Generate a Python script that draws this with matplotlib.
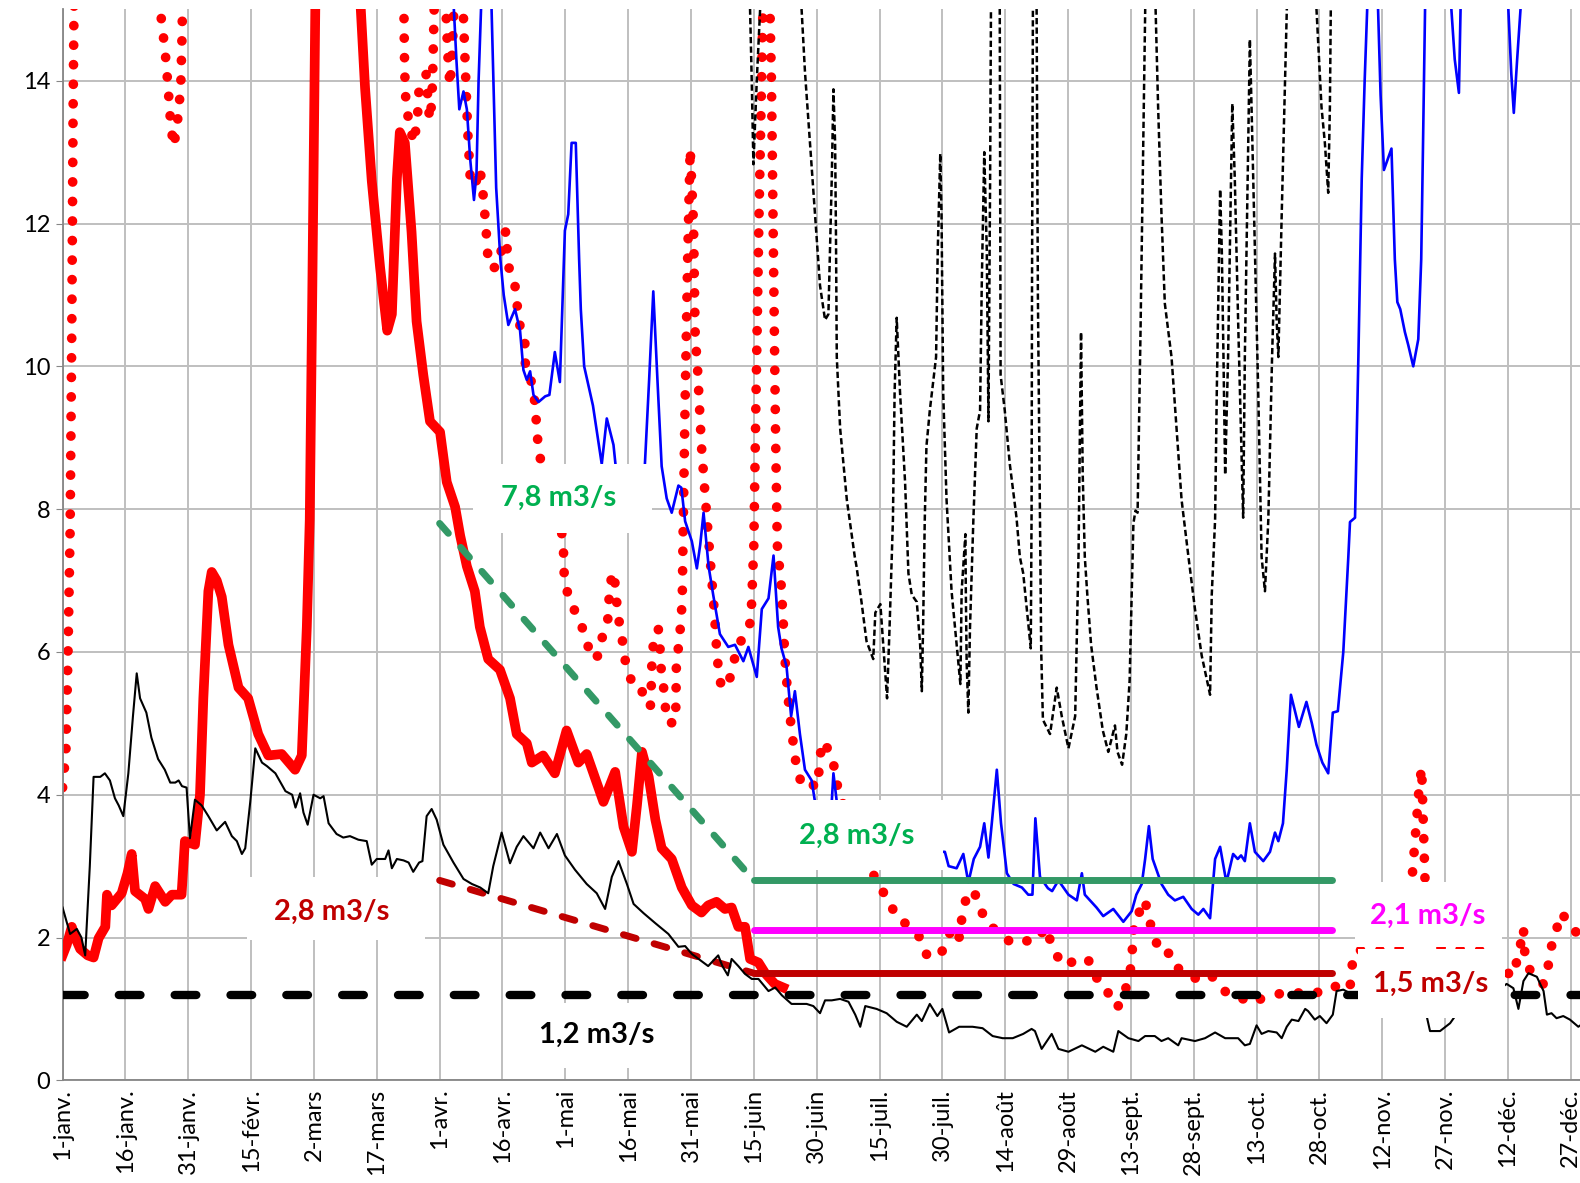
import matplotlib
matplotlib.use('Agg')
import matplotlib.pyplot as plt
from matplotlib.patches import Rectangle

plt.rcParams['font.family'] = ['Lato', 'DejaVu Sans']

# axis ticks (day of year)
tick_days = [1, 16, 31, 46, 61, 76, 91, 106, 121, 136, 151, 166, 181, 196, 211,
             226, 241, 256, 271, 286, 301, 316, 331, 346, 361]
tick_labels = ['1-janv.', '16-janv.', '31-janv.', '15-févr.', '2-mars', '17-mars',
               '1-avr.', '16-avr.', '1-mai', '16-mai', '31-mai', '15-juin', '30-juin',
               '15-juil.', '30-juil.', '14-août', '29-août', '13-sept.', '28-sept.',
               '13-oct.', '28-oct.', '12-nov.', '27-nov.', '12-déc.', '27-déc.']

# thick red series
red_days = [1, 2, 3.2, 4, 5.2, 7, 8.4, 9.6, 11.2, 11.6, 12.7, 15.1, 16.5, 17.5, 18.3,
            20.7, 21.5, 23.1, 25.5, 27.1, 29.4, 30.2, 32.6, 33.8, 34.6, 35.8, 36.6,
            37.8, 39, 40.6, 43, 45.3, 47.7, 50.1, 53.3, 56.5, 58.1, 59.3, 60, 60.6,
            61.5, 66, 71, 72, 73.2, 74.8, 76.8, 78.5, 79.6, 80.8, 81.5, 82.7, 84.3,
            85.5, 87.1, 88.7, 91.1, 92.7, 94.7, 95.9, 97.5, 99.4, 100.6, 102.6, 105.4,
            107.8, 109.4, 111.8, 113, 115.7, 118.5, 121.3, 124.1, 126.1, 130.1, 132.9,
            134.9, 136.9, 138.1, 139.3, 140.9, 142.5, 144, 146.4, 148.8, 151.2, 153.5,
            155.1, 157.1, 159.1, 160.7, 162.3, 163.9, 165.1, 167.1, 168.7, 171, 173]
red_vals = [1.75, 1.9, 2.15, 2.0, 1.84, 1.75, 1.72, 1.99, 2.15, 2.6, 2.45, 2.62, 2.9,
            3.17, 2.65, 2.54, 2.4, 2.72, 2.5, 2.6, 2.6, 3.35, 3.3, 4.0, 5.35, 6.85, 7.12,
            7.0, 6.77, 6.1, 5.5, 5.35, 4.85, 4.55, 4.57, 4.35, 4.55, 6.35, 7.85, 11.0,
            16.0, 25.0, 22.0, 15.2, 13.9, 12.6, 11.38, 10.5, 10.73, 12.63, 13.28, 13.13,
            11.88, 10.63, 9.88, 9.23, 9.08, 8.38, 8.03, 7.63, 7.2, 6.85, 6.35, 5.9, 5.75,
            5.35, 4.85, 4.72, 4.45, 4.55, 4.3, 4.9, 4.45, 4.57, 3.9, 4.32, 3.55, 3.2, 3.85,
            4.6, 4.25, 3.65, 3.25, 3.1, 2.7, 2.45, 2.35, 2.45, 2.5, 2.4, 2.42, 2.15, 2.15,
            1.7, 1.65, 1.5, 1.35, 1.3]

# red dotted series
dot_days = [1, 1.8, 2.3, 2.8, 3.2, 3.5, 3.8, 6, 12, 18, 23, 24.5, 25.5, 26.2, 26.8,
            27.5, 28.3, 29.2, 29.5, 29.7, 35, 50, 65, 78, 81.8, 82.5, 82.6, 82.8, 83.2,
            84, 84.8, 85.5, 85.9, 86.1, 87.8, 88.1, 88.4, 88.7, 89.1, 89.3, 89.5, 89.7,
            90.2, 91.5, 92.4, 92.7, 93.1, 93.5, 94.0, 94.4, 95, 96.2, 96.7, 97.2, 97.7,
            98.4, 99.5, 100.6, 101.2, 102, 102.6, 103.2, 105, 105.8, 106.8, 107.4, 108.4,
            109.2, 109.6, 110.2, 111.3, 111.4, 111.5, 112.6, 113.4, 114, 114.3, 114.8,
            117, 120.2, 120.6, 120.7, 121.3, 122.9, 124.7, 126.1, 127.3, 128.9, 129.8,
            131.1, 131.4, 131.6, 132.6, 133, 133.4, 134, 134.8, 135.4, 136.8, 138.9,
            139.9, 141.3, 141.5, 141.6, 141.8, 142.4, 143.2, 143.6, 143.8, 144.4, 144.8,
            145.2, 147.2, 147.4, 147.5, 148.4, 148.9, 149.1, 149.6, 150.2, 150.8, 151.6,
            152, 152.6, 153.5, 154.5, 155.5, 156.2, 156.6, 157.1, 157.5, 158.2, 159.5,
            160.9, 161.9, 163.5, 165.3, 166, 166.5, 167.2, 168, 168.5, 169.5, 170.2,
            170.8, 171.2, 171.6, 172.5, 173, 173.4, 174.1, 175, 176.2, 177.4, 178.6,
            179.8, 181, 181.6, 182.0, 182.6, 184.6, 185.6, 186.2, 190, 194.1, 195.7,
            198.5, 199.7, 203.3, 206.1, 207.3, 210, 212, 213.2, 215.2, 215.6, 216.4,
            218.4, 220, 221.6, 224.7, 227.5, 230.7, 233.9, 235.5, 236.7, 238.3, 240.1,
            243.3, 245.8, 247, 249.8, 251.2, 252.8, 254.6, 255.8, 256.2, 256.6, 256.8,
            258.2, 259.4, 260.1, 261.6, 262.9, 265.6, 267.5, 270.5, 273.3, 275.3, 277.7,
            280, 282.8, 284.4, 287, 293.2, 296.7, 298.7, 301.9, 305, 308.3, 308.6, 309.4,
            312, 316, 320, 322.5, 323.3, 324, 324.8, 325.4, 325.8, 326.2, 327.5, 332,
            336, 340, 343, 345.7, 347, 348.5, 349.7, 349.9, 350.3, 352.4, 354.4, 355.6,
            356.2, 357.6, 358.4, 359.5, 361.9, 363.1, 364]
dot_vals = [4.1, 4.6, 6.0, 7.7, 10.5, 13.5, 15.5, 22, 24, 22, 18, 14.9, 14.4, 13.9, 13.4,
            13.08, 13.35, 13.9, 14.6, 15.3, 22, 25, 24, 20, 16, 14.89, 14.37, 13.84,
            13.58, 13.34, 13.13, 13.38, 13.64, 13.9, 14.09, 13.84, 13.58, 13.45, 13.7,
            13.97, 14.47, 15.0, 16.5, 16.5, 15.2, 14.7, 14.2, 13.93, 14.4, 15.0, 16.5, 16,
            14.87, 14.08, 13.3, 12.53, 12.55, 12.77, 12.52, 11.99, 11.46, 11.37, 11.4,
            11.65, 11.9, 11.4, 11.27, 11.07, 10.8, 10.56, 10.45, 10.19, 9.93, 9.83, 9.7,
            9.29, 9.03, 8.77, 8.2, 7.65, 7.37, 7.12, 6.87, 6.62, 6.4, 6.15, 5.9, 5.95,
            6.2, 6.42, 6.69, 6.95, 7.12, 6.87, 6.62, 6.36, 6.1, 5.84, 5.59, 5.55, 5.31,
            5.23, 5.49, 5.75, 6.0, 6.27, 6.32, 6.06, 5.8, 5.54, 5.29, 5.02, 5.0, 5.25,
            5.78, 6.3, 6.7, 7.59, 9.5, 11.5, 13.05, 12.0, 10.45, 9.93, 8.88, 8.1, 7.35,
            6.81, 6.54, 6.05, 5.78, 5.52, 5.5, 5.74, 6.07, 6.2, 6.43, 7.5, 9.5, 12, 14.5,
            16, 16, 14, 11, 9, 7.5, 6.95, 6.45, 5.92, 5.4, 4.9, 4.38, 4.15, 4.2, 4.15,
            4.1, 4.35, 4.62, 4.75, 4.54, 4.27, 4.02, 3.5, 2.95, 2.72, 2.52, 2.3, 2.15,
            1.97, 1.75, 1.73, 1.9, 2.15, 1.99, 2.25, 2.5, 2.67, 2.42, 2.19, 2.07, 1.92,
            1.95, 1.97, 2.15, 1.97, 1.75, 1.6, 1.7, 1.7, 1.47, 1.35, 1.12, 1.02, 1.25,
            1.5, 1.75, 1.99, 2.26, 2.37, 2.53, 2.29, 2.02, 1.78, 1.78, 1.55, 1.45, 1.39,
            1.46, 1.28, 1.18, 1.14, 1.08, 1.14, 1.24, 1.22, 1.25, 1.22, 1.32, 1.28, 1.54,
            1.8, 1.84, 1.82, 1.84, 2.4, 2.97, 3.5, 4.1, 4.38, 3.6, 2.82, 1.9, 1.82, 1.84,
            1.82, 1.75, 1.52, 1.45, 1.74, 2.13, 1.87, 1.62, 1.46, 1.35, 1.6, 1.84, 2.1,
            2.34, 2.29, 2.13, 1.92, 1.8]

# blue series
blue_days = [90, 94.4, 95.0, 95.7, 96.7, 97.5, 98.3, 99.2, 99.8, 100.3, 101, 102, 103,
             103.4, 104.5, 105.5, 106.3, 107.4, 109, 110.2, 111, 111.8, 112.6, 113.4,
             114.6, 116.2, 117.2, 118.5, 119.7, 120.5, 120.9, 121.7, 122.5, 123.5, 124.3,
             124.7, 125.5, 126.9, 127.6, 129.7, 130.9, 132.5, 133.2, 136, 139.5, 140, 141,
             142, 143, 144, 145.2, 146.4, 148, 148.7, 149.6, 151.2, 152.4, 153.2, 154,
             155.2, 156.3, 157.9, 159.9, 161.5, 163.5, 164.7, 166.7, 167.9, 169.5, 170.7,
             171.8, 172.6, 173.8, 174.9, 175.8, 177, 178.2, 179.8, 180.6, 183, 184.6, 185,
             185.8, 190, 200, 205, 211.6, 212.5, 214.4, 216, 217.2, 218.5, 220, 221, 222,
             222.8, 224, 225, 226.4, 228, 230, 231.5, 232.5, 233.2, 234.3, 236.2, 237.2,
             238.7, 241.1, 243.1, 244.3, 245, 247.8, 249.4, 251.8, 254.2, 256.2, 257.3,
             258.6, 259.4, 260.3, 261.2, 263.3, 264.9, 266.5, 268.5, 270.5, 272.1, 273.3,
             274.9, 276.1, 277.3, 278.8, 280.4, 281.5, 282.3, 283.2, 284.4, 285.6, 287.6,
             289.2, 290.4, 291.2, 292.3, 293.2, 294.2, 296.1, 297.9, 299.2, 300.3, 301.7,
             303.1, 304.2, 305.4, 306.7, 307.9, 308.3, 309.5, 310.3, 311.1, 311.8, 312.4,
             313.5, 315, 315.6, 316.4, 318.2, 319, 319.6, 320.3, 321.4, 322.2, 323.4,
             324.6, 325.3, 325.7, 326.2, 328, 331, 332.5, 333.3, 334.3, 334.7, 336, 344,
             346.1, 346.8, 347.4, 348.2, 349, 350, 364]
blue_vals = [18, 15.0, 14.3, 13.6, 13.85, 13.6, 12.9, 12.33, 12.7, 14.0, 15.2, 19, 16,
             15.0, 12.5, 11.5, 11.0, 10.58, 10.8, 10.5, 9.95, 9.81, 9.93, 9.6, 9.5, 9.58,
             9.6, 10.2, 9.78, 11.2, 11.9, 12.13, 13.13, 13.13, 11.5, 10.8, 10.0, 9.63,
             9.45, 8.63, 9.27, 8.9, 8.5, 7.85, 8.0, 8.63, 9.8, 11.05, 9.8, 8.6, 8.15, 7.95,
             8.33, 8.3, 7.83, 7.55, 7.17, 7.5, 7.95, 7.2, 6.8, 6.25, 6.07, 6.1, 5.87, 6.07,
             5.65, 6.6, 6.75, 7.35, 6.35, 6.05, 5.8, 5.1, 5.45, 4.85, 4.35, 4.2, 3.9, 3.8,
             3.9, 4.3, 3.9, 3.5, 3.3, 3.2, 3.2, 3.0, 2.97, 3.17, 2.77, 3.1, 3.27, 3.6, 3.12,
             3.6, 4.35, 3.6, 2.9, 2.75, 2.7, 2.6, 2.6, 3.67, 2.85, 2.69, 2.65, 2.8, 2.6,
             2.52, 2.9, 2.6, 2.42, 2.3, 2.4, 2.22, 2.37, 2.6, 2.75, 3.1, 3.56, 3.1, 2.75,
             2.6, 2.52, 2.57, 2.4, 2.32, 2.4, 2.27, 3.1, 3.27, 2.77, 3.17, 3.1, 3.15, 3.07,
             3.6, 3.2, 3.07, 3.2, 3.47, 3.35, 3.6, 4.35, 5.4, 4.95, 5.3, 5.0, 4.7, 4.45,
             4.3, 5.15, 5.17, 6.0, 7.33, 7.82, 7.88, 10.13, 12.63, 14.0, 15.0, 18, 15.0,
             13.8, 12.75, 13.05, 11.5, 10.9, 10.8, 10.48, 10.3, 10.0, 10.38, 11.5, 13.0,
             15.0, 20, 20, 15.0, 14.3, 13.83, 15.0, 20, 20, 15.0, 14.1, 13.55, 14.3, 15.0,
             18, 20]

# thin black dashed series
bdash_days = [164.5, 165.1, 165.5, 165.9, 166.7, 167.5, 170, 175, 177.4, 178.2, 179.4,
              180.6, 181.8, 183, 183.8, 184.6, 185, 185.4, 185.6, 185.8, 186.6, 188.2,
              190.1, 190.5, 191.7, 192.9, 194.5, 195, 196.2, 196.9, 197.8, 198.4, 199.2,
              199.6, 200.1, 200.9, 202.1, 202.9, 203.7, 204.9, 205.7, 206.1, 206.4, 206.8,
              207.2, 208, 209.5, 209.9, 210.5, 210.8, 211.2, 212, 212.6, 213.2, 214.4,
              215.3, 215.6, 216.5, 216.6, 216.8, 217.2, 217.6, 218.4, 219.2, 220, 220.4,
              221, 221.6, 222, 222.4, 222.6, 223.5, 224.7, 224.9, 225.9, 227.1, 228.7,
              229.5, 230.3, 231.5, 232.1, 232.3, 232.4, 232.6, 233, 233.5, 233.8, 234.3,
              234.6, 235, 236.7, 238.3, 239.5, 241.1, 242.7, 243.5, 244.1, 244.5, 245,
              245.6, 246.5, 247.8, 249.3, 250.6, 252.2, 252.8, 253.9, 254.9, 255.7, 256.6,
              257.1, 257.6, 258.3, 258.8, 259.4, 260.5, 261.9, 262.5, 263.3, 264.1, 265.7,
              268.1, 269.7, 271.3, 272.9, 274.9, 275.3, 276.1, 276.5, 277.3, 277.7, 278.1,
              278.5, 279.2, 280.2, 280.8, 281.6, 282.8, 283.2, 284.4, 284.8, 285.6, 286.4,
              287.2, 288, 288.8, 289.7, 290.4, 290.8, 291.2, 292, 293.2, 296, 300.3, 301.5,
              302.3, 303.1, 303.5, 303.7, 304.5]
bdash_vals = [17, 15.0, 14.0, 12.83, 14.0, 15.0, 22, 22, 15.0, 14.13, 13.13, 12.13,
              11.13, 10.65, 10.73, 12.63, 13.88, 13.13, 11.88, 10.13, 9.13, 8.13, 7.33,
              7.2, 6.7, 6.15, 5.9, 6.55, 6.67, 6.1, 5.35, 6.35, 7.85, 9.63, 10.68, 9.63,
              8.38, 7.1, 6.8, 6.7, 6.1, 5.45, 6.35, 7.85, 8.88, 9.38, 10.13, 11.63, 12.98,
              12.13, 9.63, 8.13, 7.5, 6.85, 6.1, 5.55, 6.85, 7.65, 6.85, 5.85, 5.15, 6.35,
              7.85, 9.13, 9.38, 11.13, 13.0, 11.63, 9.23, 12.63, 15.0, 17, 15.0, 9.88, 9.38,
              8.63, 7.88, 7.33, 7.1, 6.4, 6.05, 8.0, 11.1, 15.0, 18, 15.0, 11.0, 7.85, 6.0,
              5.05, 4.85, 5.5, 5.1, 4.65, 5.1, 7.35, 10.48, 8.5, 7.33, 6.8, 6.1, 5.5, 4.9,
              4.6, 4.97, 4.6, 4.42, 4.85, 5.6, 7.8, 7.98, 7.95, 10.5, 12.5, 15.0, 18, 15.0,
              13.63, 12.13, 10.88, 10.13, 8.13, 7.35, 6.6, 5.95, 5.4, 6.8, 7.85, 9.63,
              12.48, 11.63, 10.13, 8.48, 10.13, 13.68, 12.63, 10.63, 7.88, 10.13, 14.58,
              13.63, 11.63, 9.63, 7.33, 6.85, 7.85, 10.13, 11.58, 10.63, 10.13, 12.13,
              15.0, 20, 15.0, 13.63, 13.13, 12.43, 13.63, 15.0, 18]

# thin black solid series
black_days = [1, 2.8, 4.4, 5.5, 6.4, 7.5, 8.4, 10, 11.1, 12.3, 13.5, 14.4, 15.5, 16.7,
              17.8, 18.7, 19.5, 21, 22.2, 23.8, 25.4, 26.7, 27.9, 28.7, 29.5, 30.6, 31.4,
              32.6, 34.2, 35.8, 37.8, 39.8, 41.4, 42.6, 43.8, 44.6, 45.8, 47, 48.6, 49.8,
              51.8, 54.2, 55.8, 56.6, 57.7, 58.5, 59.5, 60.9, 62.5, 63.3, 64.5, 66.4, 68,
              69.6, 71.6, 73.6, 74.8, 76, 78, 78.8, 79.6, 80.8, 82.4, 83.6, 84.7, 86.1,
              86.9, 87.9, 89.1, 90.3, 91.9, 94.3, 96.7, 98.7, 100.7, 102.6, 103.8, 105.8,
              107.8, 109.4, 111, 113.4, 115, 117, 119, 120.9, 123.3, 126.1, 128.5, 130.5,
              132.1, 133.7, 135.7, 137.3, 139.7, 142.5, 145.6, 148, 149.6, 151.2, 152.8,
              155.1, 157.5, 158.5, 159.8, 160.7, 162.3, 163.9, 165.5, 167.1, 169.5, 171.1,
              172.7, 175, 178.6, 180.2, 181.8, 183, 184.6, 186.6, 188.6, 190.2, 191.4,
              192.6, 195.3, 197.7, 200.1, 202.5, 204.9, 206.1, 208, 209.8, 211, 212.6, 215,
              218.2, 220.6, 223, 225.4, 227.8, 230.3, 232.3, 233.1, 234.7, 237.1, 238.7,
              241.1, 244.3, 247.5, 249.4, 251.8, 253, 255.4, 257.8, 259.4, 261.7, 263.3,
              264.9, 267.3, 268.1, 271.3, 273.7, 276.1, 278.5, 281.6, 283.2, 284.4, 286,
              287.2, 288.8, 290.8, 292, 293.2, 294.4, 296, 297.6, 298.3, 299.9, 301.1,
              302.7, 304.2, 305.1, 306.7, 308.3, 309.9, 315, 322, 326.6, 327.4, 329.8,
              332.2, 333.4, 338, 342, 345.7, 347.3, 348.5, 349.7, 350.9, 352.9, 354.5,
              355.3, 356.4, 357.6, 359.2, 360.8, 362.8, 364]
black_vals = [2.42, 2.05, 2.12, 2.0, 1.75, 3.0, 4.25, 4.25, 4.3, 4.2, 3.95, 3.85, 3.7,
              4.3, 5.1, 5.7, 5.35, 5.15, 4.8, 4.5, 4.35, 4.17, 4.17, 4.2, 4.12, 4.1, 3.39,
              3.93, 3.85, 3.7, 3.5, 3.62, 3.42, 3.35, 3.17, 3.25, 3.9, 4.65, 4.45, 4.4, 4.3,
              4.05, 4.0, 3.82, 4.02, 3.75, 3.58, 4.0, 3.95, 3.98, 3.6, 3.45, 3.4, 3.42,
              3.37, 3.35, 3.02, 3.1, 3.1, 3.22, 2.97, 3.1, 3.08, 3.05, 2.92, 3.05, 3.07,
              3.7, 3.8, 3.65, 3.3, 3.05, 2.82, 2.75, 2.7, 2.62, 3.0, 3.47, 3.04, 3.27, 3.42,
              3.25, 3.47, 3.25, 3.45, 3.15, 2.95, 2.75, 2.62, 2.4, 2.85, 3.07, 2.75, 2.47,
              2.34, 2.2, 2.05, 1.87, 1.88, 1.77, 1.7, 1.6, 1.75, 1.6, 1.47, 1.7, 1.6, 1.49,
              1.42, 1.42, 1.25, 1.3, 1.19, 1.07, 1.07, 1.04, 0.94, 1.12, 1.12, 1.14, 1.1,
              0.92, 0.75, 1.04, 1.0, 0.94, 0.82, 0.75, 0.92, 0.83, 1.07, 0.9, 1.0, 0.67,
              0.75, 0.75, 0.73, 0.62, 0.59, 0.59, 0.65, 0.72, 0.69, 0.44, 0.65, 0.44, 0.4,
              0.49, 0.4, 0.47, 0.4, 0.69, 0.59, 0.55, 0.62, 0.62, 0.55, 0.59, 0.49, 0.59,
              0.55, 0.59, 0.67, 0.59, 0.59, 0.49, 0.51, 0.77, 0.65, 0.69, 0.67, 0.59, 0.75,
              0.85, 0.83, 1.0, 0.97, 0.85, 0.9, 0.8, 0.92, 1.25, 1.27, 1.22, 1.22, 1.1, 1.0,
              0.9, 0.69, 0.69, 0.8, 0.9, 1.1, 1.2, 1.35, 1.29, 1.0, 1.39, 1.5, 1.45, 1.25,
              0.92, 0.94, 0.87, 0.9, 0.85, 0.75, 0.8]

# reference flows (m3/s)
ref_start, ref_mid, ref_end = 91, 166, 304
low_flow = 1.2
green_flow_start, green_flow = 7.8, 2.8
darkred_flow_start, darkred_flow = 2.8, 1.5
magenta_flow = 2.1

# data labels: text, day, value, colour
label_texts = ['7,8 m3/s', '2,8 m3/s', '2,8 m3/s', '1,2 m3/s', '2,1 m3/s', '1,5 m3/s']
label_days = [119.5, 190.5, 65.3, 128.6, 326.9, 327.6]
label_vals = [8.16, 3.42, 2.36, 0.63, 2.3, 1.35]
label_colors = ['#00B050', '#00B050', '#C00000', '#000000', '#FF00FF', '#C00000']
# white label boxes (day from, day to, value from, value to)
box_x0 = [98.9, 173.0, 45.1, 106.6, 309.5, 310.2]
box_x1 = [141.6, 211.2, 87.5, 149.6, 344.6, 345.3]
box_y0 = [7.67, 2.94, 1.96, 0.17, 1.87, 0.87]
box_y1 = [8.63, 3.93, 2.85, 1.08, 2.78, 1.84]

fig = plt.figure(figsize=(15.8, 11.83), dpi=100)
ax = fig.add_axes([0.0396, 0.0868, 0.9604, 0.9053])

ax.plot(dot_days, dot_vals, color='#FF0000', lw=7, linestyle=(0, (0.01, 2.0)),
        dash_capstyle='round', zorder=2)
ax.plot(red_days, red_vals, color='#FF0000', lw=7, solid_joinstyle='round', zorder=3)
ax.plot(bdash_days, bdash_vals, color='black', lw=1.8, linestyle=(0, (2.5, 1.3)), zorder=3.5)
ax.plot(blue_days, blue_vals, color='#0000FF', lw=1.9, zorder=4)

ax.plot([ref_start, ref_mid], [green_flow_start, green_flow], color='#339966', lw=5,
        linestyle=(0, (1.9, 2.7)), dash_capstyle='round', zorder=5)
ax.plot([ref_start, ref_mid], [darkred_flow_start, darkred_flow], color='#C00000', lw=5,
        linestyle=(0, (1.9, 2.7)), dash_capstyle='round', zorder=5)
ax.plot([ref_mid, ref_end], [green_flow, green_flow], color='#339966', lw=5,
        solid_capstyle='round', zorder=5)
ax.plot([ref_mid, ref_end], [magenta_flow, magenta_flow], color='#FF00FF', lw=5,
        solid_capstyle='round', zorder=5)
ax.plot([ref_mid, ref_end], [darkred_flow, darkred_flow], color='#C00000', lw=5,
        solid_capstyle='round', zorder=5)
ax.plot([1, 364], [low_flow, low_flow], color='black', lw=6, linestyle=(0, (2.6, 4.1)),
        dash_capstyle='round', zorder=5.5)

ax.plot(black_days, black_vals, color='black', lw=1.5, zorder=6)

for x0, x1, y0, y1 in zip(box_x0, box_x1, box_y0, box_y1):
    ax.add_patch(Rectangle((x0, y0), x1 - x0, y1 - y0, fc='white', ec='none', zorder=9))
for t, d, v, c in zip(label_texts, label_days, label_vals, label_colors):
    ax.text(d, v, t, color=c, fontsize=21, fontweight='bold', ha='center', va='center',
            zorder=10)

ax.set_xlim(1, 363.2)
ax.set_ylim(0, 15)
ax.set_xticks(tick_days)
ax.set_xticklabels(tick_labels, rotation=90, fontsize=17)
ax.set_yticks(range(0, 15, 2))
ax.tick_params(axis='y', labelsize=17, length=5, color='#868686', pad=4)
ax.tick_params(axis='x', length=0, pad=6)

ax.grid(True, color='#BFBFBF', lw=1.4)
ax.set_axisbelow(True)
for s in ['top', 'right']:
    ax.spines[s].set_visible(False)
for s in ['left', 'bottom']:
    ax.spines[s].set_color('#868686')
    ax.spines[s].set_linewidth(1.3)

plt.savefig('out.png', dpi=100)
